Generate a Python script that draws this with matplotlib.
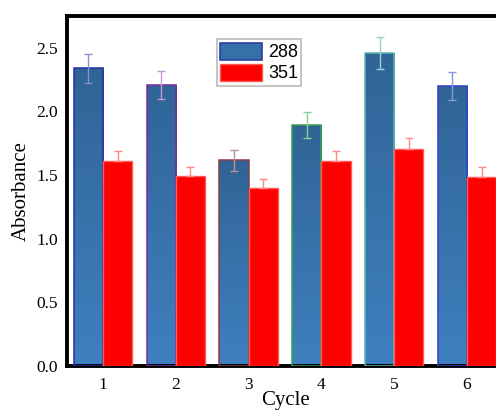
import numpy as np
import matplotlib
matplotlib.use("Agg")
import matplotlib.pyplot as plt
from matplotlib.colors import LinearSegmentedColormap
from matplotlib.patches import Patch

cycles = [1, 2, 3, 4, 5, 6]
tick_labels = ["1", "2", "3", "4", "5", "6"]
abs_288 = [2.34, 2.21, 1.615, 1.895, 2.46, 2.20]
err_288 = [0.115, 0.11, 0.085, 0.10, 0.125, 0.11]
abs_351 = [1.607, 1.489, 1.40, 1.607, 1.706, 1.484]
err_351 = [0.08, 0.072, 0.066, 0.08, 0.082, 0.08]
series_labels = ["288", "351"]

edge_288 = ["#2630a8", "#7b2a9e", "#8a3a48", "#3aa050", "#5ab8b0", "#3040c8"]
err_col_288 = ["#8890d4", "#c898d4", "#c09098", "#88d098", "#98d4cc", "#8898e4"]

fig = plt.figure(figsize=(4.96, 4.12), dpi=100)
ax = fig.add_axes([66.6/496, 46/412, 436.8/496, 350/412])

x = np.array(cycles, dtype=float)
w = 0.4
cmap = LinearSegmentedColormap.from_list("bg", ["#3f80c0", "#306496"])
grad = np.linspace(0, 1, 256).reshape(-1, 1)

bars_b = ax.bar(x - w/2, abs_288, width=w, color="none", edgecolor=edge_288,
                linewidth=1.1, zorder=3)
for b in bars_b:
    x0, y0 = b.get_x(), b.get_y()
    bw, bh = b.get_width(), b.get_height()
    im = ax.imshow(grad, extent=[x0, x0 + bw, y0, y0 + bh], origin="lower",
                   aspect="auto", cmap=cmap, zorder=2, interpolation="bilinear")
    im.set_clip_path(b)

bars_r = ax.bar(x + w/2, abs_351, width=w, color="#ff0000", edgecolor="#ff5a5a",
                linewidth=1.0, zorder=3)

for i in range(len(cycles)):
    ax.errorbar(x[i] - w/2, abs_288[i], yerr=err_288[i], fmt="none",
                ecolor=err_col_288[i], elinewidth=1.0, capsize=2.6, capthick=1.0, zorder=4)
ax.errorbar(x + w/2, abs_351, yerr=[np.zeros(len(err_351)), err_351], fmt="none",
            ecolor="#ff8888", elinewidth=1.0, capsize=2.6, capthick=1.0, zorder=4)

ax.set_xlim(0.5, 6.5)
ax.set_ylim(0, 2.75)
ax.set_xticks(x)
ax.set_xticklabels(tick_labels)
ax.set_yticks([0.0, 0.5, 1.0, 1.5, 2.0, 2.5])
ax.set_yticklabels(["0.0", "0.5", "1.0", "1.5", "2.0", "2.5"])
ax.tick_params(length=0, labelsize=12.5, pad=8)
ax.tick_params(axis="y", pad=6)
for lab in ax.get_xticklabels() + ax.get_yticklabels():
    lab.set_family("Liberation Serif")

for s in ax.spines.values():
    s.set_linewidth(2.8)
ax.spines["right"].set_visible(False)

ax.set_xlabel("Cycle", family="Liberation Serif", fontsize=15)
ax.set_ylabel("Absorbance", family="Liberation Serif", fontsize=15)
ax.xaxis.set_label_coords(0.5, -0.072)
ax.yaxis.set_label_coords(-0.083, 0.5)

handles = [Patch(facecolor="#3570a8", edgecolor="#2b3fa0", linewidth=1.2),
           Patch(facecolor="#ff0000", edgecolor="#ff5a5a", linewidth=1.0)]
leg = ax.legend(handles, series_labels, loc="upper left",
                bbox_to_anchor=((217 - 66.6)/436.8, (366 - 39.3)/350),
                borderaxespad=0, borderpad=0.18, handlelength=2.3, handleheight=1.1,
                labelspacing=0.12, handletextpad=0.35, fancybox=False,
                prop={"family": "Liberation Sans", "size": 13})
leg.get_frame().set_edgecolor("#a8a8a8")
leg.get_frame().set_linewidth(1.2)

fig.savefig("out.png", dpi=100)
